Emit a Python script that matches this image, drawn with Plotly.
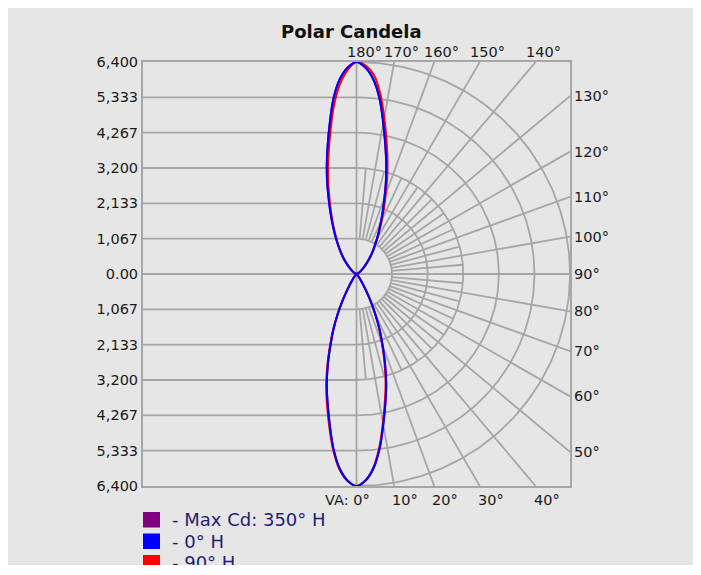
import math
import plotly.graph_objects as go

# ---------------- data ----------------
# vertical angles (deg), 0 = straight down, 180 = straight up
VA = [0, 2.5, 5, 7.5, 10, 12.5, 15, 17.5, 20, 22.5, 25, 27.5, 30,
      35, 40, 45, 50, 55, 60, 70, 80, 90, 100, 110, 120,
      125, 130, 135, 140, 145, 150,
      152.5, 155, 157.5, 160, 162.5, 165, 167.5, 170, 172.5, 175, 177.5, 180]

# candela; right half = listed H plane, left half = opposite plane (mirrored)
cd_350h_right = [6400, 6240, 5880, 5310, 4620, 4000, 3440, 2850, 2280, 1800, 1330, 900, 560,
                 200, 70, 20, 5, 0, 0, 0, 0, 0, 5, 25, 80,
                 140, 230, 370, 580, 860, 1220,
                 1450, 1730, 2060, 2450, 2930, 3440, 3990, 4620, 5320, 5880, 6230, 6400]
cd_350h_left = [6400, 6240, 5880, 5310, 4620, 4000, 3440, 2850, 2280, 1800, 1330, 900, 560,
                200, 70, 20, 5, 0, 0, 0, 0, 0, 5, 25, 80,
                140, 230, 370, 580, 860, 1220,
                1450, 1730, 2060, 2450, 2930, 3440, 3990, 4620, 5320, 5880, 6230, 6400]
cd_0h_right = [6400, 6240, 5880, 5310, 4620, 4000, 3440, 2850, 2280, 1800, 1330, 900, 560,
               200, 70, 20, 5, 0, 0, 0, 0, 0, 5, 25, 80,
               140, 230, 370, 580, 860, 1220,
               1450, 1730, 2060, 2450, 2930, 3440, 3990, 4620, 5320, 5880, 6230, 6400]
cd_0h_left = [6400, 6240, 5880, 5310, 4620, 4000, 3440, 2850, 2280, 1800, 1330, 900, 560,
              200, 70, 20, 5, 0, 0, 0, 0, 0, 5, 25, 80,
              140, 230, 370, 580, 860, 1220,
              1450, 1730, 2060, 2450, 2930, 3440, 3990, 4620, 5320, 5880, 6230, 6400]
cd_90h_right = [6400, 6230, 5850, 5260, 4560, 3930, 3370, 2790, 2230, 1760, 1300, 880, 550,
                195, 70, 20, 5, 0, 0, 0, 0, 0, 5, 25, 80,
                145, 240, 385, 600, 890, 1270,
                1500, 1800, 2150, 2560, 3060, 3590, 4150, 4790, 5480, 6020, 6300, 6400]
cd_90h_left = [6400, 6250, 5910, 5360, 4690, 4070, 3510, 2910, 2330, 1840, 1360, 920, 570,
               205, 70, 20, 5, 0, 0, 0, 0, 0, 5, 25, 80,
               135, 220, 355, 560, 830, 1170,
               1400, 1670, 1980, 2350, 2800, 3300, 3830, 4450, 5150, 5740, 6160, 6400]

series_names = ["- Max Cd: 350° H", "- 0° H", "- 90° H"]
series_colors = ["#800080", "#0000ff", "#ff0000"]

CD_MAX = 6400
ring_cd = [1066.67, 2133.33, 3200, 4266.67, 5333.33, 6400]
cd_tick_vals = [-6400, -5333.33, -4266.67, -3200, -2133.33, -1066.67, 0,
                1066.67, 2133.33, 3200, 4266.67, 5333.33, 6400]
cd_tick_text = ["6,400", "5,333", "4,267", "3,200", "2,133", "1,067", "0.00",
                "1,067", "2,133", "3,200", "4,267", "5,333", "6,400"]

right_label_va = [130, 120, 110, 100, 90, 80, 70, 60, 50]
top_label_va = [180, 170, 160, 150, 140]
bottom_label_va = [0, 10, 20, 30, 40]
bottom_label_text = ["VA: 0°", "10°", "20°", "30°", "40°"]

# ---------------- styling ----------------
BG = "#e6e6e6"
GRID = "#a6a6a6"
FONT = "DejaVu Sans"


def pol(cd, va, side=1):
    a = math.radians(va)
    return side * cd * math.sin(a), -cd * math.cos(a)


def boundary_point(va):
    a = math.radians(va)
    s, c = math.sin(a), -math.cos(a)
    ts = []
    if abs(s) > 1e-9:
        ts.append(CD_MAX / abs(s))
    if abs(c) > 1e-9:
        ts.append(CD_MAX / abs(c))
    t = min(ts)
    return t * s, t * c, t


# ---------------- grid ----------------
gx, gy = [], []
for v in cd_tick_vals:
    if v == 0 or abs(v) == CD_MAX:
        continue
    gx += [-CD_MAX, 0, None]
    gy += [v, v, None]
gx += [-CD_MAX, CD_MAX, None, 0, 0, None]
gy += [0, 0, None, -CD_MAX, CD_MAX, None]
for r in ring_cd:
    for k in range(0, 181):
        x, y = pol(r, k)
        gx.append(x)
        gy.append(y)
    gx.append(None)
    gy.append(None)
for va in range(10, 180, 10):
    if va == 90:
        continue
    x0, y0 = pol(ring_cd[0], va)
    x1, y1, _ = boundary_point(va)
    gx += [x0, x1, None]
    gy += [y0, y1, None]
for va in range(5, 180, 10):
    x0, y0 = pol(ring_cd[0], va)
    x1, y1 = pol(ring_cd[2], va)
    gx += [x0, x1, None]
    gy += [y0, y1, None]

fig = go.Figure()
fig.add_trace(go.Scatter(x=gx, y=gy, mode="lines", line=dict(color=GRID, width=1.8),
                         hoverinfo="skip", showlegend=False))


def lobe_xy(right, left):
    pts = [pol(c, a, 1) for a, c in zip(VA, right)]
    pts += [pol(c, a, -1) for a, c in zip(reversed(VA), reversed(left))]
    out = []
    for p in pts:
        if out and abs(p[0] - out[-1][0]) < 1e-6 and abs(p[1] - out[-1][1]) < 1e-6:
            continue
        out.append(p)
    return [p[0] for p in out], [p[1] for p in out]


series = [(cd_350h_right, cd_350h_left), (cd_90h_right, cd_90h_left), (cd_0h_right, cd_0h_left)]
order_colors = [series_colors[0], series_colors[2], series_colors[1]]
for (r, l), col in zip(series, order_colors):
    xs, ys = lobe_xy(r, l)
    fig.add_trace(go.Scatter(x=xs, y=ys, mode="lines",
                             line=dict(color=col, width=2, shape="spline", smoothing=1),
                             hoverinfo="skip", showlegend=False))

# ---------------- annotations ----------------
ann = []
lab_font = dict(family=FONT, size=14.5, color="#1a1a1a")
for va in right_label_va:
    x, y, _ = boundary_point(va)
    ann.append(dict(x=CD_MAX, y=y, xref="x", yref="y", text=f"{va}°", showarrow=False,
                    xanchor="left", yanchor="middle", xshift=2, font=lab_font))
for va in top_label_va:
    x, y, _ = boundary_point(va)
    ann.append(dict(x=x, y=CD_MAX, xref="x", yref="y", text=f"{va}°", showarrow=False,
                    xanchor="left", yanchor="middle", xshift=-12, yshift=10, font=lab_font))
for va, txt in zip(bottom_label_va, bottom_label_text):
    x, y, _ = boundary_point(va)
    if va == 0:
        ann.append(dict(x=x, y=-CD_MAX, xref="x", yref="y", text=txt, showarrow=False,
                        xanchor="right", yanchor="middle", xshift=15, yshift=-14, font=lab_font))
    else:
        ann.append(dict(x=x, y=-CD_MAX, xref="x", yref="y", text=txt, showarrow=False,
                        xanchor="left", yanchor="middle", xshift=-4, yshift=-14, font=lab_font))

ann.append(dict(x=0.488, y=1.071, xref="paper", yref="paper", text="Polar Candela",
                showarrow=False, xanchor="center", yanchor="middle",
                font=dict(family=FONT, size=18, color="#111111", weight="bold")))

shapes = []
W, H = 427.0, 424.0
for i, (name, col) in enumerate(zip(series_names, series_colors)):
    top = 504 + i * 21.5 - 54
    y_top = 1 - top / H
    y_bot = 1 - (top + 15.5) / H
    shapes.append(dict(type="rect", xref="paper", yref="paper", x0=0, x1=17 / W,
                       y0=y_bot, y1=y_top, fillcolor=col, line=dict(width=0)))
    ann.append(dict(x=27 / W, y=(y_top + y_bot) / 2, xref="paper", yref="paper", text=name,
                    showarrow=False, xanchor="left", yanchor="middle",
                    font=dict(family=FONT, size=18, color="#1f1f70")))

fig.update_layout(
    width=689, height=557,
    margin=dict(l=135, r=127, t=54, b=79, pad=0),
    paper_bgcolor=BG, plot_bgcolor=BG,
    showlegend=False,
    annotations=ann, shapes=shapes,
    xaxis=dict(range=[-CD_MAX, CD_MAX], showgrid=False, zeroline=False, showticklabels=False,
               ticks="", showline=True, mirror=True, linecolor=GRID, linewidth=2, fixedrange=True),
    yaxis=dict(range=[-CD_MAX, CD_MAX], showgrid=False, zeroline=False,
               tickvals=cd_tick_vals, ticktext=cd_tick_text, ticks="",
               tickfont=dict(family=FONT, size=14.5, color="#1a1a1a"),
               showline=True, mirror=True, linecolor=GRID, linewidth=2, fixedrange=True),
)

fig.write_html("out.html")
